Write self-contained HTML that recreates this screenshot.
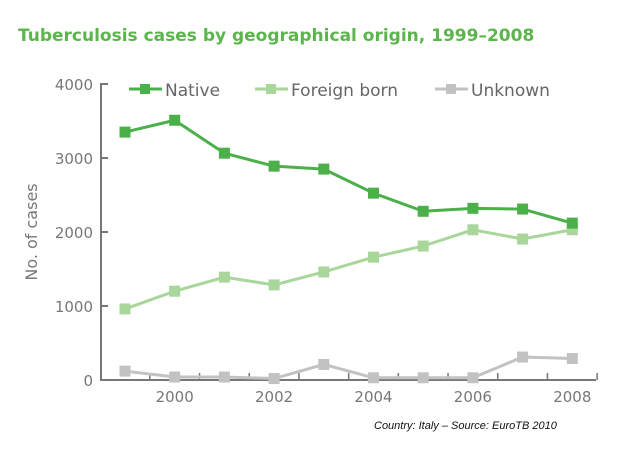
<!DOCTYPE html>
<html><head><meta charset="utf-8"><style>
body{margin:0;background:#fff;width:638px;height:451px;overflow:hidden;font-family:"DejaVu Sans","Liberation Sans",sans-serif}
</style></head><body>
<svg width="638" height="451">
<text x="18" y="41" fill="#5bb54c" font-size="17" font-weight="bold">Tuberculosis cases by geographical origin, 1999–2008</text>
<g id="axes"></g>
<g id="series"></g>
<g>
<g><line x1="129" y1="89" x2="162" y2="89" stroke="#4cb04a" stroke-width="3"/><rect x="140" y="84" width="10" height="10" fill="#4cb04a"/><text x="165" y="96" font-size="17" fill="#666">Native</text></g>
<g><line x1="255" y1="89" x2="288" y2="89" stroke="#a9d69b" stroke-width="3"/><rect x="266" y="84" width="10" height="10" fill="#a9d69b"/><text x="291" y="96" font-size="17" fill="#666">Foreign born</text></g>
<g><line x1="435" y1="89" x2="468" y2="89" stroke="#c2c2c2" stroke-width="3"/><rect x="446" y="84" width="10" height="10" fill="#c2c2c2"/><text x="471" y="96" font-size="17" fill="#666">Unknown</text></g>
</g>
<text x="374" y="429" font-size="11" font-style="italic" font-family="Liberation Sans" fill="#111">Country: Italy – Source: EuroTB 2010</text>
</svg>
<script>
const years=[1999,2000,2001,2002,2003,2004,2005,2006,2007,2008];
const nativeVals=[3350,3510,3065,2890,2850,2525,2280,2320,2310,2120];
const foreignVals=[960,1200,1390,1285,1460,1660,1810,2030,1905,2030];
const unknownVals=[120,40,40,20,210,30,30,30,310,290];
const yTicks=[0,1000,2000,3000,4000];
const xLabels=[2000,2002,2004,2006,2008];
const NS="http://www.w3.org/2000/svg";
const xs=y=>125+(y-1999)*49.7;
const ys=v=>380-v*0.074;
function mk(t,a,p){const e=document.createElementNS(NS,t);for(const k in a)e.setAttribute(k,a[k]);p.appendChild(e);return e;}
const ax=document.getElementById('axes');
const g='#777';
mk('path',{d:`M108 ${ys(4000)}H101V380H596`,fill:'none',stroke:g,'stroke-width':2},ax);
yTicks.forEach(t=>{
 const l=mk('line',{x1:101,x2:108,y1:ys(t),y2:ys(t),stroke:g,'stroke-width':2},ax);
 
 
 const tx=mk('text',{x:93,y:ys(t)+6,'text-anchor':'end','font-size':15,fill:'#777'},ax);tx.textContent=t;
 
 
});
for(let i=0;i<years.length;i++){
 const x=xs(years[i])+24.85;
 const l=mk('line',{x1:x,x2:x,y1:373,y2:380,stroke:g,'stroke-width':1.5},ax);
 
 
}
xLabels.forEach(y=>{
 const tx=mk('text',{x:xs(y),y:402,'text-anchor':'middle','font-size':15,fill:'#777'},ax);tx.textContent=y;
 
 
});
const yt=mk('text',{transform:'translate(37,232) rotate(-90)','text-anchor':'middle','font-size':16,fill:'#777'},ax);yt.textContent='No. of cases';


const sg=document.getElementById('series');
[[unknownVals,'#c2c2c2','unknown'],[foreignVals,'#a9d69b','foreign-born'],[nativeVals,'#4cb04a','native']].forEach(([vals,c,n])=>{
 const gg=mk('g',{},sg);
 
 
 const pl=mk('polyline',{points:vals.map((v,i)=>xs(years[i])+','+ys(v)).join(' '),fill:'none',stroke:c,'stroke-width':3},gg);
 
 vals.forEach((v,i)=>{
  const r=mk('rect',{x:xs(years[i])-5.5,y:ys(v)-5.5,width:11,height:11,fill:c},gg);
  
  
 });
});
</script>
</body></html>
